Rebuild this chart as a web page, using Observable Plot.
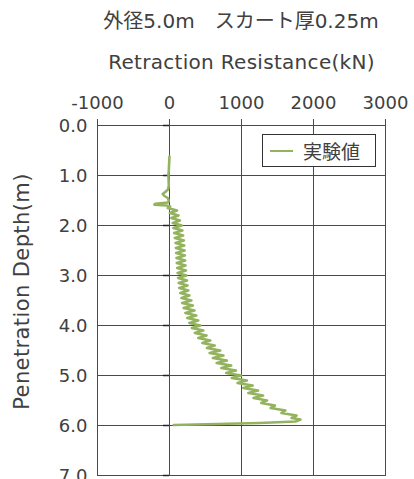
<!DOCTYPE html>
<html><head><meta charset="utf-8">
<script src="https://cdn.jsdelivr.net/npm/d3@7"></script>
<script src="https://cdn.jsdelivr.net/npm/@observablehq/plot@0.6"></script>
<style>
body{margin:0;background:#fff;}
#wrap{position:relative;width:414px;height:479px;overflow:hidden;font-family:"DejaVu Sans","Noto Sans CJK JP",sans-serif;color:#404040;}
#title{position:absolute;left:68px;top:0;width:346px;height:40px;line-height:42px;text-align:center;font-size:20px;font-family:"DejaVu Sans","Noto Sans CJK JP",sans-serif;}
#chart{position:absolute;left:0;top:40px;}
#legend{position:absolute;left:262px;top:134px;width:114px;height:33px;box-sizing:border-box;border:1px solid #333;background:#fff;}
#legend .sw{position:absolute;left:7px;top:15px;width:23px;height:0;border-top:2.5px solid #94b35f;}
#legend .lb{position:absolute;left:40px;top:0;line-height:31px;font-size:19px;font-family:"Noto Sans CJK JP",sans-serif;color:#404040;}
</style>
</head><body>
<div id="wrap">
<div id="title"></div>
<div id="chart"></div>
<div id="legend"><div class="sw"></div><div class="lb"></div></div>
</div>
<script>
const seriesName = "実験値";
const titleText = "外径5.0m　スカート厚0.25m";
const xLabel = "Retraction Resistance(kN)";
const yLabel = "Penetration Depth(m)";
const xTicks = [-1000, 0, 1000, 2000, 3000];
const yTicks = [0, 1, 2, 3, 4, 5, 6, 7];

const depth = [
  0.62, 0.75, 0.90, 1.00, 1.10, 1.20, 1.28, 1.33, 1.37, 1.41, 1.45, 1.50, 1.54, 1.565, 1.585, 1.60, 1.62,
  1.65, 1.70, 1.75, 1.80, 1.85, 1.90, 1.95, 2.00, 2.05, 2.10, 2.15, 2.20, 2.25, 2.30, 2.35, 2.40, 2.45,
  2.50, 2.55, 2.60, 2.65, 2.70, 2.75, 2.80, 2.85, 2.90, 2.95, 3.00, 3.05, 3.10, 3.15, 3.20, 3.25, 3.30,
  3.35, 3.40, 3.45, 3.50, 3.55, 3.60, 3.65, 3.70, 3.75, 3.80, 3.85, 3.90, 3.95, 4.00, 4.05, 4.10, 4.15,
  4.20, 4.25, 4.30, 4.35, 4.40, 4.45, 4.50, 4.55, 4.60, 4.65, 4.70, 4.75, 4.80, 4.85, 4.90, 4.95, 5.00,
  5.05, 5.10, 5.15, 5.20, 5.25, 5.30, 5.35, 5.40, 5.45, 5.50, 5.55, 5.60, 5.65, 5.70, 5.75, 5.80, 5.85,
  5.88, 5.92, 5.95, 5.99
];
const resistance = [
  0, -5, -10, -15, -12, -10, -20, -60, -95, -70, -25, -10, -20, -200, -210, -40, 10,
  -25, 105, 5, 125, 25, 145, 45, 170, 55, 180, 65, 190, 75, 200, 83, 206, 88,
  210, 92, 214, 96, 218, 100, 223, 106, 229, 112, 235, 119, 243, 127, 251, 135, 262,
  150, 278, 166, 305, 175, 325, 196, 348, 220, 373, 246, 400, 275, 430, 310, 470, 352,
  515, 400, 567, 457, 628, 520, 705, 557, 750, 603, 798, 655, 857, 720, 923, 788, 995,
  865, 1075, 945, 1155, 1025, 1230, 1095, 1300, 1167, 1355, 1275, 1465, 1405, 1610, 1555, 1765, 1695,
  1820, 1750, 1250, 60
];

document.getElementById("title").textContent = titleText;
document.querySelector("#legend .lb").textContent = seriesName;

const data = depth.map((d, i) => ({depth: d, r: resistance[i]}));
const gridColor = "#4a4a4a";
const lineColor = "#94b35f";

const chart = Plot.plot({
  width: 414,
  height: 439,
  marginTop: 85,
  marginLeft: 97,
  marginRight: 29,
  marginBottom: 4,
  style: {fontFamily: '"DejaVu Sans","Noto Sans CJK JP",sans-serif', fontSize: "18px", color: "#404040", background: "white", overflow: "visible"},
  x: {domain: [-1000, 3000]},
  y: {domain: [0, 7], reverse: true},
  marks: [
    Plot.gridX(xTicks, {stroke: gridColor, strokeOpacity: 1, strokeWidth: 1}),
    Plot.gridY(yTicks, {stroke: gridColor, strokeOpacity: 1, strokeWidth: 1}),
    Plot.frame({stroke: gridColor, strokeWidth: 1}),
    Plot.ruleY(yTicks, {x1: 0, x2: -85, stroke: "#222", strokeWidth: 1.5}),
    Plot.axisX(xTicks, {anchor: "top", tickSize: 7, tickFormat: () => "", label: null, stroke: gridColor}),
    Plot.axisX(xTicks, {anchor: "top", tickSize: 0, tickPadding: 17, tickFormat: d => String(d), label: null, fontSize: 18}),
    Plot.axisY(yTicks, {anchor: "left", tickSize: 0, tickPadding: 10, dy: 1, tickFormat: d => d.toFixed(1), label: null, fontSize: 18}),
    Plot.line(data, {x: "r", y: "depth", stroke: lineColor, strokeWidth: 2.6, strokeLinejoin: "round"}),
    Plot.text([xLabel], {frameAnchor: "top", dy: -63, lineAnchor: "middle", fontSize: 20}),
    Plot.text([yLabel], {frameAnchor: "left", dx: -75, dy: -9, rotate: -90, textAnchor: "middle", lineAnchor: "middle", fontSize: 21})
  ]
});
d3.select(chart).selectAll("text").filter(function() { return this.textContent === xLabel; }).style("letter-spacing", "0.3px");
d3.select(chart).selectAll("text").filter(function() { return this.textContent === yLabel; }).style("letter-spacing", "0.4px");
document.getElementById("chart").append(chart);
</script>
</body></html>
